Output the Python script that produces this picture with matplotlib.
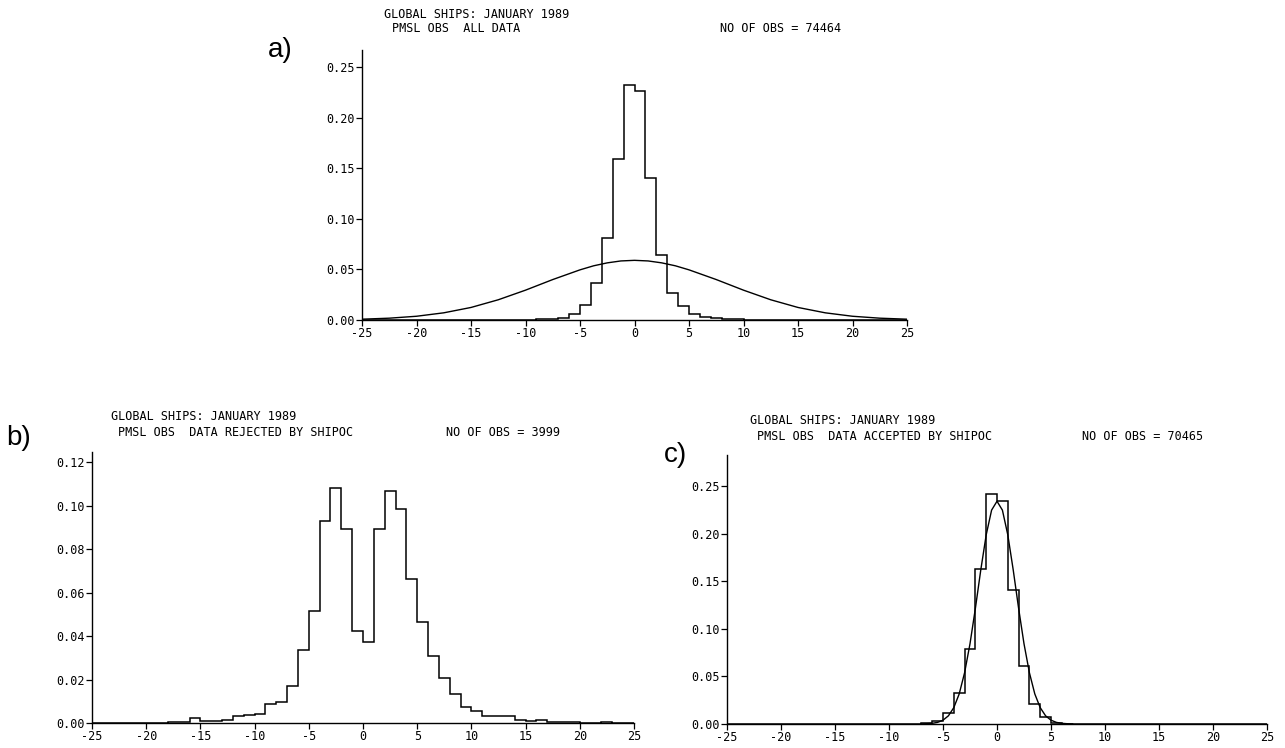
import numpy as np
import matplotlib
matplotlib.use("Agg")
import matplotlib.pyplot as plt

plt.rcParams["axes.unicode_minus"] = False

# bin edges of the pressure departure histograms (hPa)
edges = np.arange(-25, 26)

# a) all data, relative frequency per 1 hPa bin
freq_all = [0, 0, 0, 0, 0, 0, 0, 0, 0, 0, 0, 0, 0, 0, 0,
            0.0003, 0.0005, 0.001, 0.002, 0.006, 0.0145, 0.037, 0.081, 0.159, 0.232,
            0.226, 0.140, 0.064, 0.027, 0.0135, 0.0055, 0.003, 0.0015, 0.001, 0.0007,
            0.0004, 0.0003, 0.0002,
            0, 0, 0, 0, 0, 0, 0, 0, 0, 0, 0, 0]

# b) data rejected by the QC
freq_rej = [0, 0, 0, 0, 0, 0, 0,
            0.0003, 0.0003, 0.0022, 0.0008, 0.001, 0.0012, 0.003, 0.0038, 0.004,
            0.0087, 0.0097, 0.017, 0.0335, 0.0514, 0.0927, 0.1082, 0.0894, 0.0424,
            0.0372, 0.0894, 0.1068, 0.0983, 0.0661, 0.0464, 0.0309, 0.0205, 0.0135,
            0.0075, 0.0057, 0.0034, 0.0033, 0.003, 0.0015, 0.001, 0.0012, 0.0006,
            0.0004, 0.0003, 0.0002, 0.0002, 0.0003, 0.0001, 0]

# c) data accepted by the QC
freq_acc = [0, 0, 0, 0, 0, 0, 0, 0, 0, 0, 0, 0, 0, 0, 0, 0, 0, 0,
            0.0008, 0.0028, 0.0112, 0.0324, 0.0792, 0.1628, 0.2413,
            0.234, 0.1412, 0.0607, 0.0209, 0.007, 0.0014, 0.0005, 0.0002,
            0, 0, 0, 0, 0, 0, 0, 0, 0, 0, 0, 0, 0, 0, 0, 0, 0]

# fitted curves
curve_a_x = [-25, -22.5, -20, -17.5, -15, -12.5, -10, -7.5, -5, -3.75, -2.5, -1.25, 0,
             1.25, 2.5, 3.75, 5, 7.5, 10, 12.5, 15, 17.5, 20, 22.5, 25]
curve_a_y = [0.0008, 0.0018, 0.0037, 0.0071, 0.0124, 0.0200, 0.0295, 0.0400, 0.0496,
             0.0536, 0.0565, 0.0584, 0.0590, 0.0584, 0.0565, 0.0536, 0.0496, 0.0400,
             0.0295, 0.0200, 0.0124, 0.0071, 0.0037, 0.0018, 0.0008]

curve_c_x = [-7, -6.5, -6, -5.5, -5, -4.5, -4, -3.5, -3, -2.5, -2, -1.5, -1, -0.5, 0,
             0.5, 1, 1.5, 2, 2.5, 3, 3.5, 4, 4.5, 5, 5.5, 6, 6.5, 7]
curve_c_y = [0.0001, 0.0003, 0.0007, 0.0017, 0.0040, 0.0086, 0.0172, 0.0316, 0.0539,
             0.0843, 0.1216, 0.162, 0.1987, 0.2247, 0.234, 0.2247, 0.1987, 0.162,
             0.1216, 0.0843, 0.0539, 0.0316, 0.0172, 0.0086, 0.0040, 0.0017, 0.0007,
             0.0003, 0.0001]

W, H = 1285, 748
MONO = "DejaVu Sans Mono"

fig = plt.figure(figsize=(W / 100, H / 100), dpi=100)


def pos(x0, x1, ytop, ybot):
    return [x0 / W, 1 - ybot / H, (x1 - x0) / W, (ybot - ytop) / H]


def style(ax, ymax, ystep):
    ax.set_xlim(-25, 25)
    ax.set_ylim(0, ymax)
    for s in ["top", "right"]:
        ax.spines[s].set_visible(False)
    for s in ["left", "bottom"]:
        ax.spines[s].set_linewidth(1.0)
    ax.set_xticks(np.arange(-25, 26, 5))
    ax.set_yticks(np.arange(0, ymax, ystep))
    ax.yaxis.set_major_formatter(matplotlib.ticker.FormatStrFormatter("%.2f"))
    ax.tick_params(direction="out", length=4, width=0.9, labelsize=8.5, pad=1)
    for lab in ax.get_xticklabels() + ax.get_yticklabels():
        lab.set_family(MONO)


def txt(x, y, s, size=8.5, family=MONO):
    fig.text(x / W, 1 - y / H, s, ha="left", va="center", size=size, family=family)


# panel a
ax_a = fig.add_axes(pos(362, 907, 50, 320))
ax_a.stairs(freq_all, edges, color="black", lw=1.1)
ax_a.plot(curve_a_x, curve_a_y, color="black", lw=1.0)
style(ax_a, 0.267, 0.05)
txt(384, 15, "GLOBAL SHIPS: JANUARY 1989")
txt(392, 29, "PMSL OBS  ALL DATA")
txt(720, 29, "NO OF OBS = 74464")
txt(268, 50, "a)", size=20, family="Liberation Sans")

# panel b
ax_b = fig.add_axes(pos(92, 634, 452, 723))
ax_b.stairs(freq_rej, edges, color="black", lw=1.1)
style(ax_b, 0.1246, 0.02)
txt(111, 417, "GLOBAL SHIPS: JANUARY 1989")
txt(118, 432, "PMSL OBS  DATA REJECTED BY SHIPOC")
txt(446, 432, "NO OF OBS = 3999")
txt(6, 438, "b)", size=20, family="Liberation Sans")

# panel c
ax_c = fig.add_axes(pos(727, 1267, 455, 724))
ax_c.stairs(freq_acc, edges, color="black", lw=1.1)
ax_c.plot(curve_c_x, curve_c_y, color="black", lw=1.0)
style(ax_c, 0.2826, 0.05)
txt(750, 421, "GLOBAL SHIPS: JANUARY 1989")
txt(757, 436, "PMSL OBS  DATA ACCEPTED BY SHIPOC")
txt(1082, 436, "NO OF OBS = 70465")
txt(664, 455, "c)", size=20, family="Liberation Sans")

fig.savefig("out.png", dpi=100)
